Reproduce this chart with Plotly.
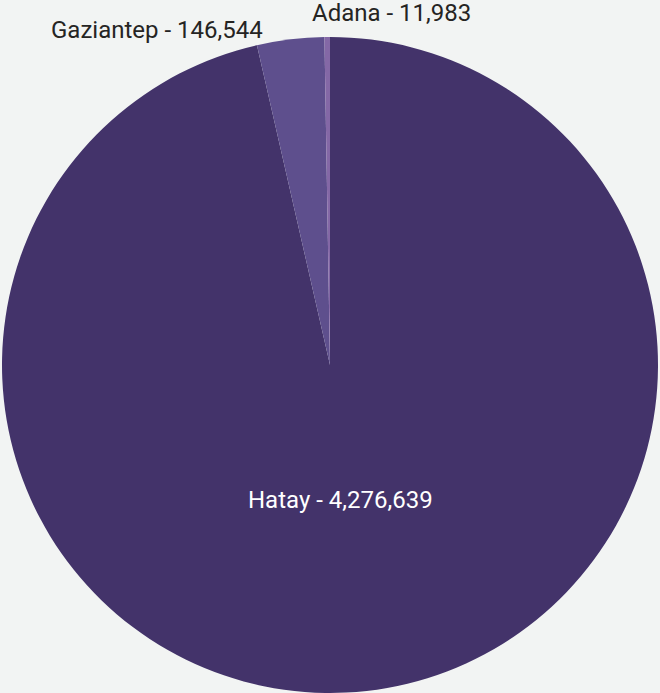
import plotly.graph_objects as go

labels = ["Hatay", "Gaziantep", "Adana"]
values = [4276639, 146544, 11983]
colors = ["#43336a", "#5e4f8d", "#8468a6"]
text_colors = ["#ffffff", "#252423", "#252423"]
# label anchor positions in paper fraction (x, y)
label_x = [340 / 660, 157 / 660, 391 / 660]
label_y = [1 - 500 / 693, 1 - 30 / 693, 1 - 13 / 693]

fig = go.Figure(go.Pie(
    labels=labels,
    values=values,
    sort=False,
    direction="clockwise",
    rotation=0,
    marker=dict(colors=colors, line=dict(width=0)),
    textinfo="none",
    hoverinfo="label+value",
    showlegend=False,
    domain=dict(x=[0, 1], y=[0, 656 / 693]),
))

for lab, val, tc, lx, ly in zip(labels, values, text_colors, label_x, label_y):
    fig.add_annotation(
        x=lx, y=ly, xref="paper", yref="paper",
        text=f"{lab} - {val:,}",
        showarrow=False,
        xanchor="center", yanchor="middle",
        font=dict(family="Roboto", size=24, color=tc),
    )

fig.update_layout(
    width=660,
    height=693,
    margin=dict(l=0, r=0, t=0, b=0),
    paper_bgcolor="#f2f4f3",
    plot_bgcolor="#f2f4f3",
)

fig.write_html("out.html", config={"displayModeBar": False},
               post_script="document.body.style.margin='0';")
